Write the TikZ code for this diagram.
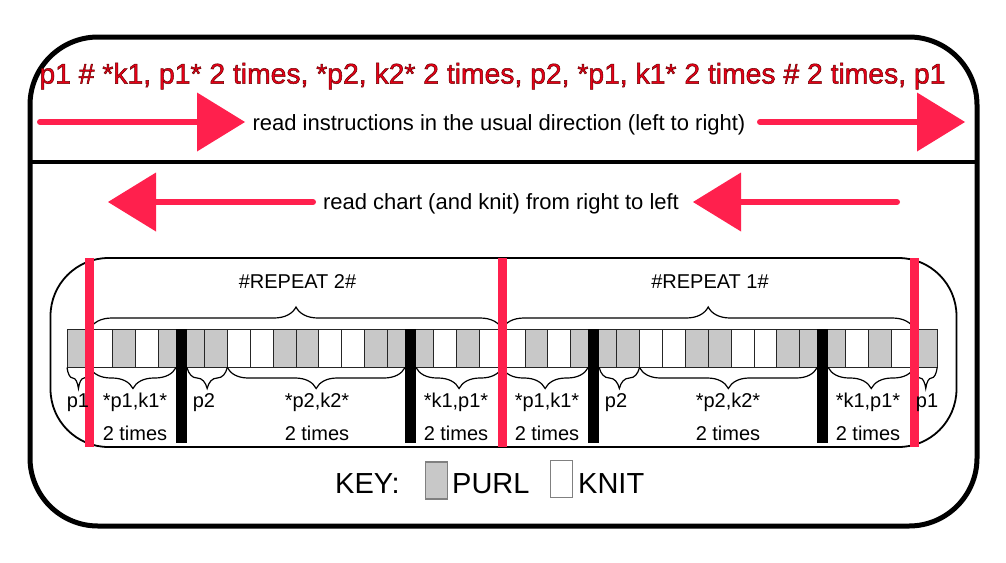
\documentclass[tikz,border=0pt]{standalone}
\usepackage{fontspec}
\setmainfont{Liberation Sans}
\usetikzlibrary{arrows.meta,decorations.pathreplacing}
\definecolor{arrowred}{RGB}{255,32,77}
\definecolor{textred}{RGB}{232,0,24}
\definecolor{cellgrey}{RGB}{200,200,200}
\colorlet{G}{cellgrey}
\colorlet{W}{white}
\newcommand\outlinetext[1]{\special{pdf:literal direct 2 Tr 0.5 w 0.4 0 0 RG}#1\special{pdf:literal direct 0 Tr}}
\begin{document}
\begin{tikzpicture}[x=1pt,y=-1pt,
  lbl/.style={font=\fontsize{20}{22}\selectfont, anchor=base, inner sep=0pt},
  mid/.style={font=\fontsize{22}{24}\selectfont, anchor=base, inner sep=0pt},
  keytext/.style={font=\fontsize{29}{31}\selectfont, anchor=base west, inner sep=0pt},
  cell/.style={draw=black!85, line width=0.9pt, minimum width=22.9pt, minimum height=38.5pt, inner sep=0pt, outer sep=0pt, anchor=north west},
  redbar/.style={fill=arrowred, minimum width=9pt, minimum height=189pt, inner sep=0pt, outer sep=0pt},
  blackbar/.style={fill=black, minimum width=11pt, minimum height=114pt, inner sep=0pt, outer sep=0pt},
  bigbrace/.style={decorate, decoration={brace, amplitude=22pt}, line width=1.2pt},
  smallbrace/.style={decorate, decoration={brace, amplitude=21pt}, line width=1.2pt},
  bigarrow/.style={arrowred, line width=6pt, line cap=round, -{Triangle[length=48pt,width=59pt,line width=0pt]}},
  keybox/.style={draw=black!50, line width=1.3pt, minimum width=22pt, minimum height=37pt, inner sep=0pt},
]
\useasboundingbox (0,0) rectangle (1006,562);

% outer frame
\draw[line width=5pt, rounded corners=68pt] (30,37) rectangle (977,526);
\draw[line width=4pt] (30,162) -- (977,162);

% title
\node[font=\fontsize{28.3}{30}\selectfont, text=textred, anchor=base, inner sep=0pt] (title) at (492.5,83.5)
  {\outlinetext{p1 \# *k1, p1* 2 times, *p2, k2* 2 times, p2, *p1, k1* 2 times \# 2 times, p1}};

% first row of arrows
\node[mid] (usual) at (499,130) {read instructions in the usual direction (left to right)};
\coordinate (a1s) at (40,122);
\coordinate (a1e) at (245,122);
\coordinate (a2s) at (760,122);
\coordinate (a2e) at (965,122);
\draw[bigarrow] (a1s) -- (a1e);
\draw[bigarrow] (a2s) -- (a2e);

% second row of arrows
\node[mid] (chart) at (501,209) {read chart (and knit) from right to left};
\coordinate (b1s) at (313,202);
\coordinate (b1e) at (108,202);
\coordinate (b2s) at (897,202);
\coordinate (b2e) at (693,202);
\draw[bigarrow] (b1s) -- (b1e);
\draw[bigarrow] (b2s) -- (b2e);

% inner rounded box
\draw[line width=1.8pt, rounded corners=58pt] (50.5,258) rectangle (956.5,447);

% cells
\foreach \f [count=\i from 0] in {G,W,G,W,G,G,G,W,W,G,G,W,W,G,G,G,W,G,W,W,G,W,G,G,G,W,W,G,G,W,W,G,G,G,W,G,W,G}
  \node[cell, fill=\f] (c\i) at ({67+22.9*\i},329) {};

% braces above
\draw[bigbrace] (c1.north west) -- (c18.north east);
\draw[bigbrace] (c19.north west) -- (c36.north east);
\node[lbl] (rep2) at (297.5,288) {\#REPEAT 2\#};
\node[lbl] (rep1) at (710,288) {\#REPEAT 1\#};

% bars
\coordinate (redmid) at (0,352.5);
\coordinate (barmid) at (0,386);
\node[blackbar] (k1) at (c5.west |- barmid) {};
\node[blackbar] (k2) at (c15.west |- barmid) {};
\node[blackbar] (k3) at (c23.west |- barmid) {};
\node[blackbar] (k4) at (c33.west |- barmid) {};

% braces below
\draw[smallbrace] (c0.south east) -- (c0.south west);
\draw[smallbrace] (k1.west |- c4.south) -- (c1.south west);
\draw[smallbrace] (c6.south east) -- (k1.east |- c5.south);
\draw[smallbrace] (k2.west |- c14.south) -- (c7.south west);
\draw[smallbrace] (c18.south east) -- (k2.east |- c15.south);
\draw[smallbrace] (k3.west |- c22.south) -- (c19.south west);
\draw[smallbrace] (c24.south east) -- (k3.east |- c23.south);
\draw[smallbrace] (k4.west |- c32.south) -- (c25.south west);
\draw[smallbrace] (c36.south east) -- (k4.east |- c33.south);
\draw[smallbrace] (c37.south east) -- (c37.south west);

% red lines
\node[redbar] (r1) at (c1.west |- redmid) {};
\node[redbar] (r2) at (c19.west |- redmid) {};
\node[redbar] (r3) at (c37.west |- redmid) {};

% labels below
\node[lbl] (l1) at (78,407) {p1};
\node[lbl] (l2) at (135,407) {*p1,k1*};
\node[lbl] (l2b) at (135,440) {2 times};
\node[lbl] (l3) at (204,407) {p2};
\node[lbl] (l4) at (317,407) {*p2,k2*};
\node[lbl] (l4b) at (317,440) {2 times};
\node[lbl] (l5) at (456,407) {*k1,p1*};
\node[lbl] (l5b) at (456,440) {2 times};
\node[lbl] (l6) at (547,407) {*p1,k1*};
\node[lbl] (l6b) at (547,440) {2 times};
\node[lbl] (l7) at (616,407) {p2};
\node[lbl] (l8) at (728,407) {*p2,k2*};
\node[lbl] (l8b) at (728,440) {2 times};
\node[lbl] (l9) at (868,407) {*k1,p1*};
\node[lbl] (l9b) at (868,440) {2 times};
\node[lbl] (l10) at (927,407) {p1};

% key
\node[keytext] (key) at (335,493) {KEY:};
\node[keybox, fill=cellgrey] (pbox) at (436.5,480.5) {};
\node[keytext] (purl) at (452,493) {PURL};
\node[keybox, fill=white] (kbox) at (561.5,479) {};
\node[keytext] (knit) at (578,493) {KNIT};
\end{tikzpicture}
\end{document}
